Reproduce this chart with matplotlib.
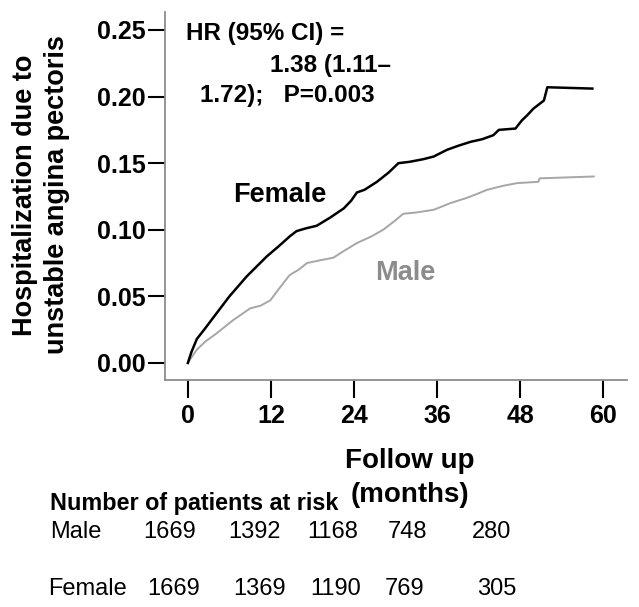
import matplotlib
matplotlib.use('Agg')
import matplotlib.pyplot as plt

plt.rcParams['font.family'] = ['Liberation Sans', 'DejaVu Sans']

# cumulative incidence (months, proportion)
female_months = [0, 0.5, 1.3, 2.5, 4.1, 6.0, 8.5, 11.4, 13.2, 14.7, 15.7, 17.0, 18.6,
                 20.5, 22.5, 23.6, 24.4, 25.5, 27.3, 29.0, 30.4, 32.0, 34.0, 35.5,
                 37.4, 39.0, 40.8, 42.5, 44.1, 44.9, 47.3, 48.2, 49.0, 49.9, 51.4,
                 51.9, 58.4]
female_risk = [0, 0.008, 0.018, 0.026, 0.037, 0.050, 0.065, 0.080, 0.088, 0.095, 0.099,
               0.101, 0.103, 0.109, 0.116, 0.122, 0.128, 0.130, 0.136, 0.143, 0.150,
               0.151, 0.153, 0.155, 0.160, 0.163, 0.166, 0.168, 0.171, 0.175, 0.176,
               0.182, 0.186, 0.191, 0.197, 0.207, 0.206]

male_months = [0, 0.5, 1.3, 2.5, 4.1, 6.5, 9.0, 10.5, 11.9, 13.2, 14.7, 16.0, 17.2,
               19.0, 21.0, 22.5, 24.4, 26.5, 28.2, 29.7, 31.1, 33.0, 35.5, 37.9,
               40.3, 41.8, 43.2, 45.5, 47.5, 50.6, 50.8, 58.6]
male_risk = [0, 0.004, 0.010, 0.016, 0.022, 0.032, 0.041, 0.043, 0.047, 0.056, 0.066,
             0.070, 0.075, 0.077, 0.079, 0.084, 0.090, 0.095, 0.100, 0.106, 0.112,
             0.113, 0.115, 0.120, 0.124, 0.127, 0.130, 0.133, 0.135, 0.136, 0.1386,
             0.140]

x_ticks = [0, 12, 24, 36, 48, 60]
y_ticks = [0.00, 0.05, 0.10, 0.15, 0.20, 0.25]

risk_groups = ['Male', 'Female']
male_at_risk = [1669, 1392, 1168, 748, 280]
female_at_risk = [1669, 1369, 1190, 769, 305]

W, H = 639, 607
fig = plt.figure(figsize=(W / 100, H / 100), dpi=100)

def px(x, y):
    # pixel position -> figure fraction
    return x / W, 1 - y / H

ax = fig.add_axes([165 / W, 1 - 380 / H, (627 - 165) / W, (380 - 12) / H])
ax.plot(male_months, male_risk, color='#a6a6a6', lw=1.4)
ax.plot(female_months, female_risk, color='black', lw=1.8)

ax.set_xlim(-3.3, 63.4)
ax.set_ylim(-0.0128, 0.2635)
ax.set_xticks(x_ticks)
ax.set_yticks(y_ticks)
ax.set_yticklabels(['%.2f' % v for v in y_ticks])
for s in ['top', 'right']:
    ax.spines[s].set_visible(False)
for s in ['left', 'bottom']:
    ax.spines[s].set_color('#8c8c8c')
    ax.spines[s].set_linewidth(1.3)
ax.tick_params(axis='y', length=12, width=1.5, pad=2, labelsize=18)
ax.tick_params(axis='x', length=13, width=1.5, pad=4, labelsize=18)
for lab in ax.get_xticklabels() + ax.get_yticklabels():
    lab.set_fontweight('bold')

# y label
fig.text(*px(41, 195), 'Hospitalization due to\nunstable angina pectoris',
         rotation=90, ha='center', va='center', ma='center',
         fontsize=19.5, fontweight='bold', linespacing=1.28)

# annotations inside the plot
fig.text(*px(186, 40), 'HR (95% CI) =', fontsize=17.5, fontweight='bold', va='baseline')
fig.text(*px(270, 72), '1.38 (1.11\u2013', fontsize=17.5, fontweight='bold', va='baseline')
fig.text(*px(200, 102), '1.72);   P=0.003', fontsize=17.5, fontweight='bold', va='baseline')
fig.text(*px(233, 202), 'Female', fontsize=19.5, fontweight='bold', va='baseline')
fig.text(*px(375, 280), 'Male', fontsize=19.5, fontweight='bold', va='baseline',
         color='#8c8c8c')

# x label
fig.text(*px(410, 468), 'Follow up', fontsize=20, fontweight='bold', ha='center', va='baseline')
fig.text(*px(410, 502), '(months)', fontsize=20, fontweight='bold', ha='center', va='baseline')

# number at risk table
fig.text(*px(50, 510), 'Number of patients at risk', fontsize=16.8, fontweight='bold',
         va='baseline')
male_x = [143, 228, 307, 388, 472]
female_x = [147, 233, 310, 385, 477]
fig.text(*px(50, 538), risk_groups[0], fontsize=17, va='baseline')
fig.text(*px(48, 595), risk_groups[1], fontsize=17, va='baseline')
for xp, n in zip(male_x, male_at_risk):
    fig.text(*px(xp, 538), str(n), fontsize=17, va='baseline')
for xp, n in zip(female_x, female_at_risk):
    fig.text(*px(xp, 595), str(n), fontsize=17, va='baseline')

fig.savefig('out.png', dpi=100)
